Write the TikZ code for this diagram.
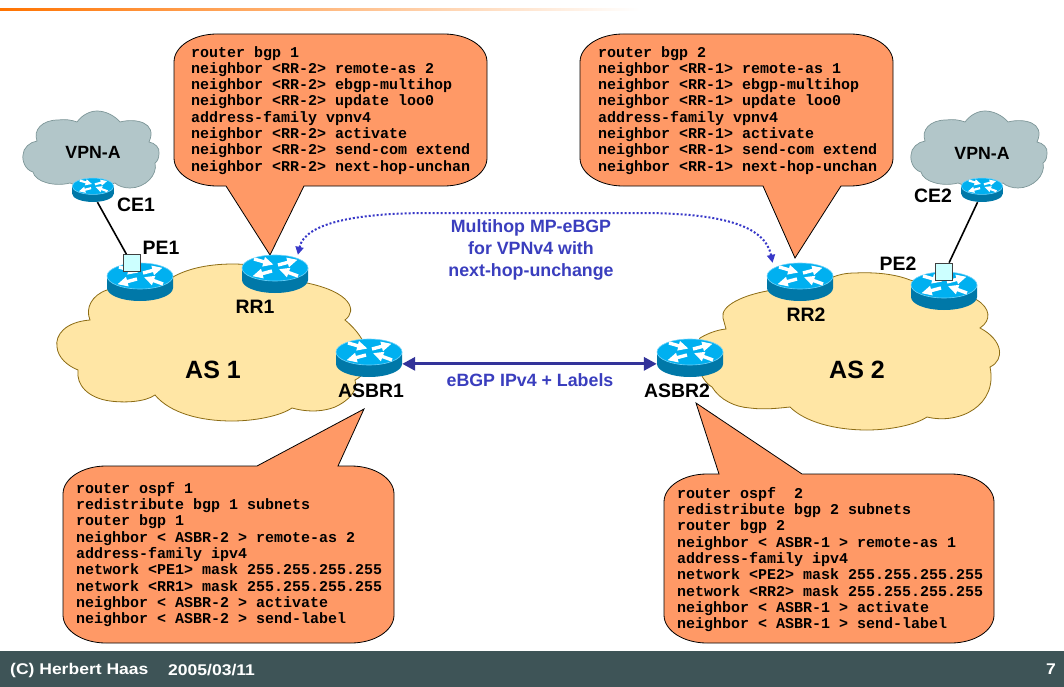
\documentclass[tikz,border=0pt]{standalone}
\usepackage{fontspec}
\usepackage{xcolor}
\usepackage{tikz}
\usetikzlibrary{arrows.meta}
\setmainfont{Liberation Sans}
\newfontfamily\cfgfamily{Liberation Mono}
\newfontfamily\footfamily{Liberation Sans}[FakeStretch=1.13]
\definecolor{callout-orange}{RGB}{255, 153, 102}
\definecolor{as-yellow}{RGB}{255, 230, 165}
\definecolor{as-edge}{RGB}{140, 108, 20}
\definecolor{vpn-gray}{RGB}{178, 198, 201}
\definecolor{vpn-edge}{RGB}{125, 150, 152}
\definecolor{router-top}{RGB}{0, 176, 240}
\definecolor{router-rim}{RGB}{110, 210, 250}
\definecolor{router-side}{RGB}{0, 120, 168}
\definecolor{port-cyan}{RGB}{204, 255, 255}
\definecolor{link-blue}{RGB}{51, 51, 153}
\definecolor{dot-blue}{RGB}{56, 56, 200}
\definecolor{text-blue}{RGB}{58, 62, 190}
\definecolor{footer-slate}{RGB}{62, 84, 87}
\newcommand{\calloutup}[8]{%
    \draw[calloutbody] (#5,#2) -- (#6,#7) -- (#8,#2) -- ({#3-43},#2)
        arc[start angle=90, end angle=0, x radius=43pt, y radius=28pt] -- (#3,{#4-28})
        arc[start angle=0, end angle=-90, x radius=43pt, y radius=28pt] -- ({#1+43},#4)
        arc[start angle=-90, end angle=-180, x radius=43pt, y radius=28pt] -- (#1,{#2+28})
        arc[start angle=180, end angle=90, x radius=43pt, y radius=28pt] -- cycle;}
\newcommand{\calloutdown}[8]{%
    \draw[calloutbody] (#5,#4) -- (#6,#7) -- (#8,#4) -- ({#3-43},#4)
        arc[start angle=-90, end angle=0, x radius=43pt, y radius=28pt] -- (#3,{#2+28})
        arc[start angle=0, end angle=90, x radius=43pt, y radius=28pt] -- ({#1+43},#2)
        arc[start angle=90, end angle=180, x radius=43pt, y radius=28pt] -- (#1,{#4-28})
        arc[start angle=180, end angle=270, x radius=43pt, y radius=28pt] -- cycle;}
\tikzset{
    calloutbody/.style={draw=black, fill=callout-orange, line width=0.8pt},
    cfgtext/.style={anchor=north west, inner sep=0pt, align=left, font=\cfgfamily\bfseries\fontsize{15}{16.3}\selectfont},
    routerbox/.style={minimum width=66pt, minimum height=38pt, inner sep=0pt},
    smallbox/.style={minimum width=42pt, minimum height=24pt, inner sep=0pt},
    routerlabel/.style={font=\bfseries\fontsize{19.4}{22}\selectfont, inner sep=0pt},
    vpnlabel/.style={font=\bfseries\fontsize{17.7}{20}\selectfont, inner sep=0pt},
    aslabel/.style={font=\bfseries\fontsize{25}{28}\selectfont, inner sep=0pt},
    linklabel/.style={font=\bfseries\fontsize{17.8}{22}\selectfont, text=text-blue, align=center, inner sep=0pt},
    portbox/.style={draw=black!75, fill=port-cyan, line width=0.8pt, minimum size=17pt, inner sep=0pt},
    footertext/.style={font=\footfamily\bfseries\fontsize{15.5}{18}\selectfont, text=white, inner sep=0pt},
    router/.pic={
        \fill[router-side] (-33,-6) -- (-33,6) arc[start angle=180, end angle=360, x radius=33pt, y radius=13pt] -- (33,-6) -- cycle;
        \filldraw[fill=router-top, draw=router-rim, line width=0.6pt] (0,-6) ellipse[x radius=33pt, y radius=13pt];
        \foreach \xa/\ya/\rot in {-21/-15/-16, 3/-9/15, -3/-3/195, 23/2/160}
            \fill[white, shift={(\xa,\ya)}, rotate=\rot] (0,-1.7) -- (10,-1.7) -- (10,-5) -- (20,0) -- (10,5) -- (10,1.7) -- (0,1.7) -- cycle;
    },
    vpncloud/.pic={
        \filldraw[fill=vpn-gray, draw=vpn-edge, line width=0.7pt] (37,141) .. controls (33,130) and (42,120) .. (58,120)
            .. controls (65,119) and (72,120) .. (77,122) .. controls (82,115) and (90,111) .. (97,111)
            .. controls (106,111) and (115,116) .. (120,122) .. controls (135,118) and (158,122) .. (149,142)
            .. controls (155,143) and (160,148) .. (159,153) .. controls (159,157) and (158,161) .. (155,163)
            .. controls (158,175) and (145,188) .. (130,188) .. controls (124,188) and (118,186) .. (115,183)
            .. controls (100,188) and (80,188) .. (70,183) .. controls (55,187) and (35,182) .. (33,172)
            .. controls (25,170) and (22,160) .. (23,155) .. controls (23,148) and (30,142) .. (37,141) -- cycle;
    }
}

\begin{document}
\begin{tikzpicture}[x=1pt, y=-1pt]
    \useasboundingbox (0,0) rectangle (1064,687);
    \fill[white] (0,0) rectangle (1064,687);
    \fill[left color=orange!90!red, right color=white] (0,9) rectangle (640,11);
    \fill[footer-slate] (0,651) rectangle (1064,687);

    \pic at (0,0) {vpncloud};
    \pic at (888,0) {vpncloud};

    \filldraw[fill=as-yellow, draw=as-edge, line width=0.8pt] (90,320) .. controls (65,322) and (55,335) .. (57,347)
        .. controls (58,358) and (68,366) .. (78,370) .. controls (76,385) and (88,398) .. (110,401)
        .. controls (125,403) and (145,402) .. (155,395) .. controls (170,413) and (200,421) .. (232,421)
        .. controls (255,421) and (280,416) .. (292,408) .. controls (310,413) and (325,411) .. (335,407)
        .. controls (350,400) and (358,390) .. (355,380) .. controls (372,372) and (375,345) .. (345,320)
        .. controls (358,310) and (350,292) .. (307,283) .. controls (295,275) and (265,264) .. (233,264)
        .. controls (205,264) and (185,270) .. (173,277) .. controls (150,278) and (125,282) .. (107,290)
        .. controls (92,295) and (85,308) .. (90,320) -- cycle;
    \filldraw[fill=as-yellow, draw=as-edge, line width=0.8pt] (726,329) .. controls (715,330) and (705,335) .. (700,338)
        .. controls (690,355) and (700,380) .. (712,387) .. controls (720,400) and (735,407) .. (750,408)
        .. controls (765,410) and (780,408) .. (790,407) .. controls (805,422) and (835,430) .. (867,430)
        .. controls (890,430) and (915,425) .. (927,417) .. controls (960,425) and (998,405) .. (990,367)
        .. controls (1005,360) and (1003,340) .. (980,328) .. controls (992,320) and (990,308) .. (977,300)
        .. controls (960,290) and (930,285) .. (910,280) .. controls (895,274) and (875,272) .. (855,273)
        .. controls (845,273) and (838,275) .. (833,277) .. controls (810,280) and (785,285) .. (767,291)
        .. controls (745,295) and (720,305) .. (723,318) -- cycle;

    \calloutdown{174}{34}{487}{186}{226}{270}{255}{304}
    \calloutdown{580}{34}{893}{186}{763}{795}{258}{841}
    \calloutup{63}{466}{394}{643}{257}{364}{409}{338}
    \calloutup{664}{474}{994}{643}{719}{696}{403}{802}

    \node[cfgtext] (cfgrr1) at (191,46) {router bgp 1\\neighbor <RR-2> remote-as 2\\neighbor <RR-2> ebgp-multihop\\neighbor <RR-2> update loo0\\address-family vpnv4\\neighbor <RR-2> activate\\neighbor <RR-2> send-com extend\\neighbor <RR-2> next-hop-unchan};
    \node[cfgtext] (cfgrr2) at (598,46) {router bgp 2\\neighbor <RR-1> remote-as 1\\neighbor <RR-1> ebgp-multihop\\neighbor <RR-1> update loo0\\address-family vpnv4\\neighbor <RR-1> activate\\neighbor <RR-1> send-com extend\\neighbor <RR-1> next-hop-unchan};
    \node[cfgtext] (cfgasbr1) at (76,482) {router ospf 1\\redistribute bgp 1 subnets\\router bgp 1\\neighbor < ASBR-2 > remote-as 2\\address-family ipv4\\network <PE1> mask 255.255.255.255\\network <RR1> mask 255.255.255.255\\neighbor < ASBR-2 > activate\\neighbor < ASBR-2 > send-label};
    \node[cfgtext] (cfgasbr2) at (677,487) {router ospf~~2\\redistribute bgp 2 subnets\\router bgp 2\\neighbor < ASBR-1 > remote-as 1\\address-family ipv4\\network <PE2> mask 255.255.255.255\\network <RR2> mask 255.255.255.255\\neighbor < ASBR-1 > activate\\neighbor < ASBR-1 > send-label};

    \node[smallbox] (ce1) at (93,190) {};
    \node[smallbox] (ce2) at (982,190) {};
    \node[routerbox] (pe1) at (140,282) {};
    \node[routerbox] (pe2) at (944,291) {};
    \node[routerbox] (rr1) at (275,274) {};
    \node[routerbox] (rr2) at (800,282) {};
    \node[routerbox] (asbr1) at (369,358) {};
    \node[routerbox] (asbr2) at (690,358) {};

    \pic[scale=0.63] at (ce1) {router};
    \pic[scale=0.63] at (ce2) {router};
    \pic at (pe1) {router};
    \pic at (pe2) {router};
    \pic at (rr1) {router};
    \pic at (rr2) {router};
    \pic at (asbr1) {router};
    \pic at (asbr2) {router};

    \node[portbox] (port1) at (131.5,263) {};
    \node[portbox] (port2) at (944,271.5) {};

    \draw[line width=1.6pt] (ce1.-70) -- (port1.120);
    \draw[line width=1.6pt] (ce2.-110) -- (port2.60);
    \draw[{Triangle[length=8pt, width=8pt]}-{Triangle[length=8pt, width=8pt]}, dot-blue, line width=2pt, dash pattern=on 2pt off 2pt] (rr1.40) .. controls (305,222) and (360,213) .. (430,213) -- (640,213) .. controls (720,213) and (765,225) .. (rr2.145);
    \draw[{Triangle[length=13pt, width=13pt]}-{Triangle[length=13pt, width=13pt]}, link-blue, line width=3.2pt] (asbr1.-10) -- (asbr2.-170);

    \node[vpnlabel] (vpn1) at (93,152) {VPN-A};
    \node[vpnlabel] (vpn2) at (982,153) {VPN-A};
    \node[routerlabel] (ce1label) at (136,205) {CE1};
    \node[routerlabel] (ce2label) at (933,196) {CE2};
    \node[routerlabel] (pe1label) at (161,248) {PE1};
    \node[routerlabel] (pe2label) at (898,264) {PE2};
    \node[routerlabel] (rr1label) at (255,307) {RR1};
    \node[routerlabel] (rr2label) at (806,315) {RR2};
    \node[routerlabel] (asbr1label) at (371,391) {ASBR1};
    \node[routerlabel] (asbr2label) at (677,391) {ASBR2};
    \node[aslabel] (as1) at (213,370) {AS 1};
    \node[aslabel] (as2) at (857,370) {AS 2};
    \node[linklabel] (mplabel) at (531,250) {Multihop MP-eBGP\\for VPNv4 with\\next-hop-unchange};
    \node[linklabel] (ebgplabel) at (530,380) {eBGP IPv4 + Labels};

    \node[footertext, anchor=west] (footleft) at (10,670) {(C) Herbert Haas};
    \node[footertext, anchor=west] (footdate) at (168,670) {2005/03/11};
    \node[footertext, anchor=east] (footpage) at (1056,669) {7};
\end{tikzpicture}
\end{document}
